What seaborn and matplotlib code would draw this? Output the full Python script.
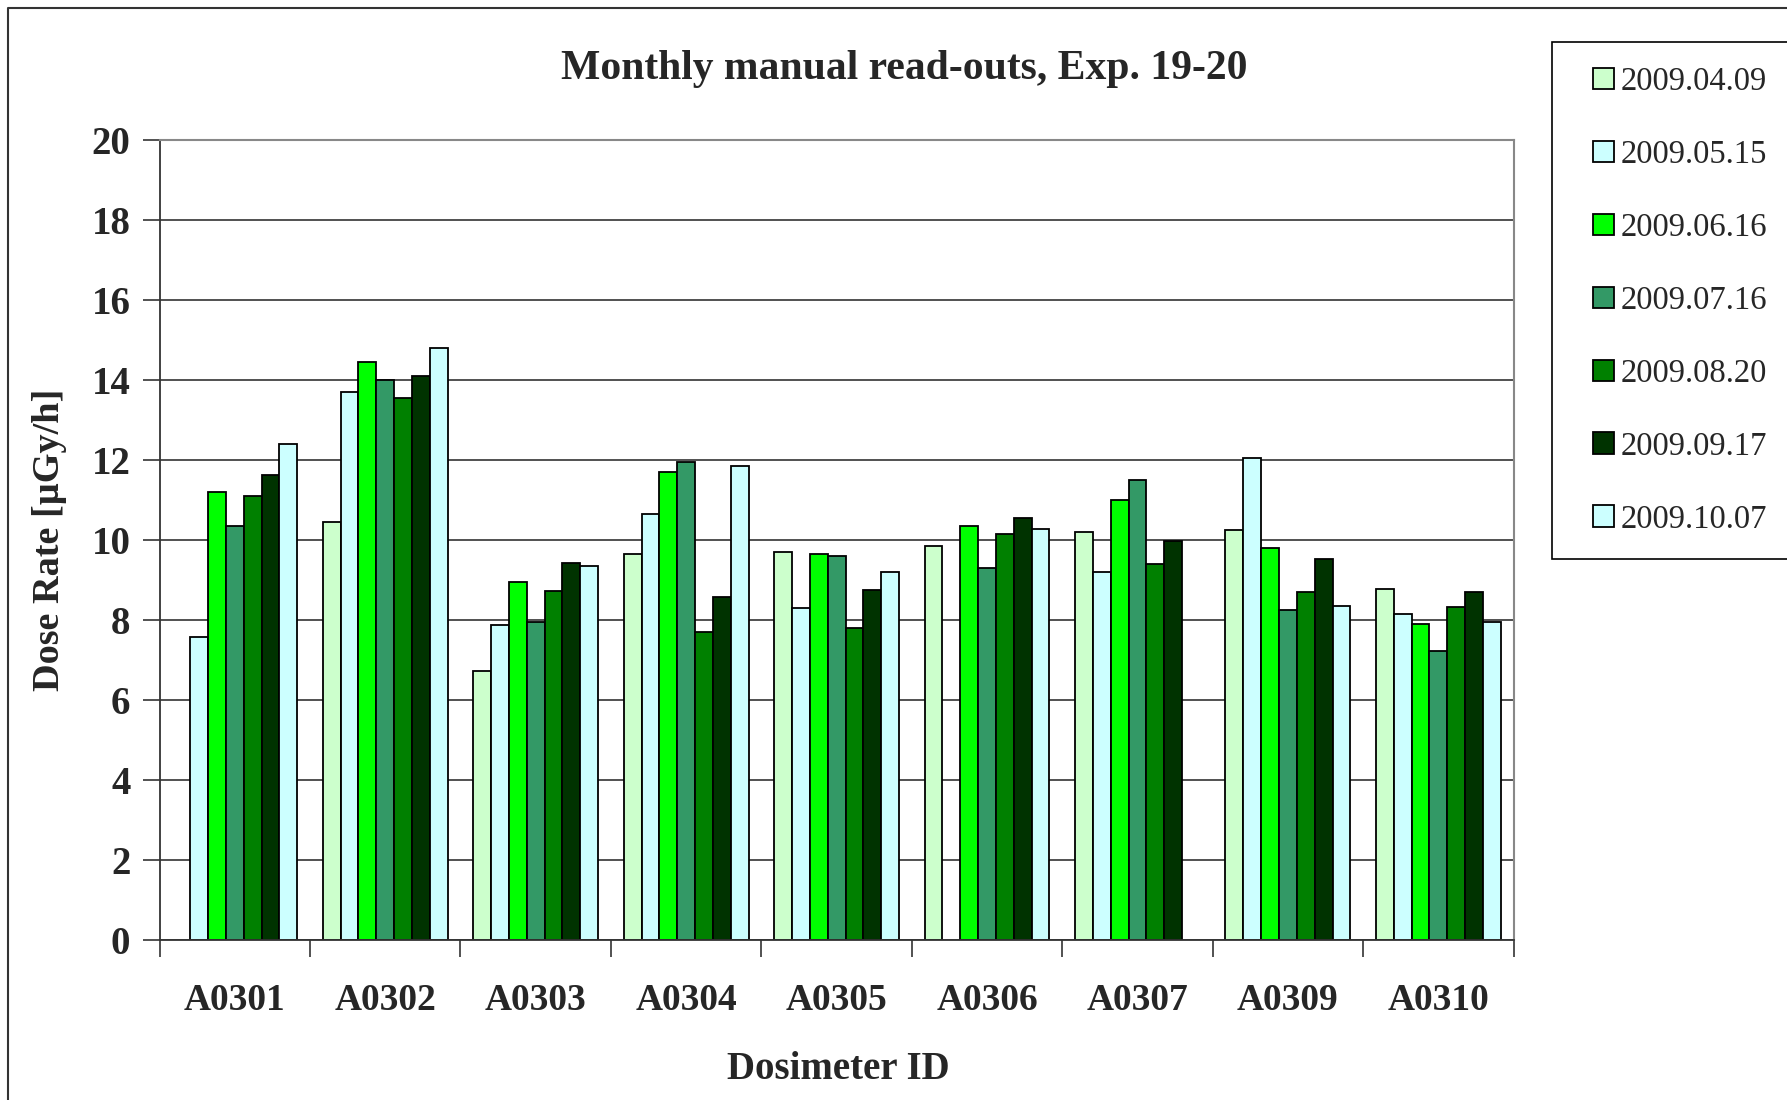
import numpy as np
import pandas as pd
import matplotlib
matplotlib.use("Agg")
import matplotlib.pyplot as plt
from matplotlib.lines import Line2D
from matplotlib.patches import Rectangle
from matplotlib.legend_handler import HandlerPatch
from matplotlib.ticker import FixedLocator, NullFormatter, FixedFormatter
import seaborn as sns

# --- data ---
dosimeters = ["A0301", "A0302", "A0303", "A0304", "A0305", "A0306", "A0307", "A0309", "A0310"]
dates = ["2009.04.09", "2009.05.15", "2009.06.16", "2009.07.16", "2009.08.20", "2009.09.17", "2009.10.07"]

r_0409 = [np.nan, 10.46, 6.72, 9.66, 9.71, 9.86, 10.21, 10.25, 8.77]
r_0515 = [7.57, 13.70, 7.87, 10.66, 8.31, np.nan, 9.21, 12.05, 8.16]
r_0616 = [11.20, 14.45, 8.96, 11.70, 9.66, 10.35, 11.00, 9.81, 7.91]
r_0716 = [10.35, 14.00, 7.96, 11.95, 9.61, 9.31, 11.50, 8.26, 7.22]
r_0820 = [11.11, 13.55, 8.72, 7.71, 7.81, 10.15, 9.41, 8.71, 8.32]
r_0917 = [11.62, 14.10, 9.42, 8.57, 8.76, 10.55, 9.97, 9.52, 8.71]
r_1007 = [12.41, 14.80, 9.35, 11.86, 9.21, 10.29, np.nan, 8.36, 7.96]

colors = ["#CCFFCC", "#CCFFFF", "#00FF00", "#339966", "#008000", "#003300", "#CCFFFF"]

series = [r_0409, r_0515, r_0616, r_0716, r_0820, r_0917, r_1007]
df = pd.DataFrame({"id": dosimeters})
for d, s in zip(dates, series):
    df[d] = s
long = df.melt(id_vars="id", var_name="date", value_name="dose").dropna()

# --- style ---
sns.set_style("ticks")
plt.rcParams["font.family"] = ["Liberation Serif", "DejaVu Serif"]

fig, ax = plt.subplots(figsize=(17.87, 11), dpi=100)
fig.subplots_adjust(left=0.0893, right=0.847, top=0.8725, bottom=0.1452)

sns.barplot(data=long, x="id", y="dose", hue="date", order=dosimeters,
            hue_order=dates, palette=colors, width=0.83, errorbar=None,
            edgecolor="black", linewidth=1.3, saturation=1, ax=ax)

handles, labels = ax.get_legend_handles_labels()
ax.get_legend().remove()

ax.set_xlim(-0.5, len(dosimeters) - 0.5)
ax.set_ylim(0, 20)
ax.set_yticks(np.arange(0, 21, 2))
ax.yaxis.grid(True, color="#222222", linewidth=1.1)
ax.set_axisbelow(True)

# ticks at category boundaries, labels at centres
ax.xaxis.set_major_locator(FixedLocator(np.arange(-0.5, len(dosimeters), 1.0)))
ax.xaxis.set_major_formatter(NullFormatter())
ax.xaxis.set_minor_locator(FixedLocator(np.arange(len(dosimeters))))
ax.xaxis.set_minor_formatter(FixedFormatter(dosimeters))
ax.tick_params(axis="x", which="major", length=12, width=1.2, color="#333333", direction="out")
ax.tick_params(axis="x", which="minor", length=0, pad=31, labelsize=27)
ax.tick_params(axis="y", length=12, width=1.2, color="#333333", pad=9, labelsize=28)
for t in ax.get_xticklabels(minor=True) + ax.get_yticklabels():
    t.set_fontweight("bold")

ax.set_xlabel("")
ax.set_ylabel("")
for side in ["left", "bottom"]:
    ax.spines[side].set_color("#333333")
    ax.spines[side].set_linewidth(1.3)
for side in ["top", "right"]:
    ax.spines[side].set_visible(True)
    ax.spines[side].set_color("#888888")
    ax.spines[side].set_linewidth(1.5)

fig.text(0.506, 0.937, "Monthly manual read-outs, Exp. 19-20", ha="center", va="center",
         fontsize=30, fontweight="bold")
fig.text(0.0275, 0.509, "Dose Rate [µGy/h]", rotation=90, ha="center", va="center",
         fontsize=27.5, fontweight="bold")
fig.text(0.469, 0.028, "Dosimeter ID", ha="center", va="center",
         fontsize=28, fontweight="bold")


# square legend keys sitting at the right end of the handle box
def square_key(legend, orig_handle, xdescent, ydescent, width, height, fontsize):
    return Rectangle((-xdescent + width - height, -ydescent), height, height)


leg = fig.legend(handles, labels, loc="upper left", bbox_to_anchor=(0.8685, 0.9618, 0.2, 0.0),
                 mode="expand", fontsize=23.5, frameon=True, fancybox=False, framealpha=1,
                 edgecolor="black", labelspacing=1.30, handlelength=1.15, handleheight=0.63,
                 handletextpad=0.21, borderpad=0.75, borderaxespad=0,
                 handler_map={Rectangle: HandlerPatch(patch_func=square_key)})
leg.get_frame().set_linewidth(1.2)
for h in leg.legend_handles:
    h.set_edgecolor("black")
    h.set_linewidth(1.3)

# outer chart border (left and top visible)
fig.add_artist(Line2D([8 / 1787, 8 / 1787, 1.0], [0.0, 1 - 8 / 1100, 1 - 8 / 1100],
                      transform=fig.transFigure, color="#333333", linewidth=1.5))

fig.savefig("out.png", dpi=100)
